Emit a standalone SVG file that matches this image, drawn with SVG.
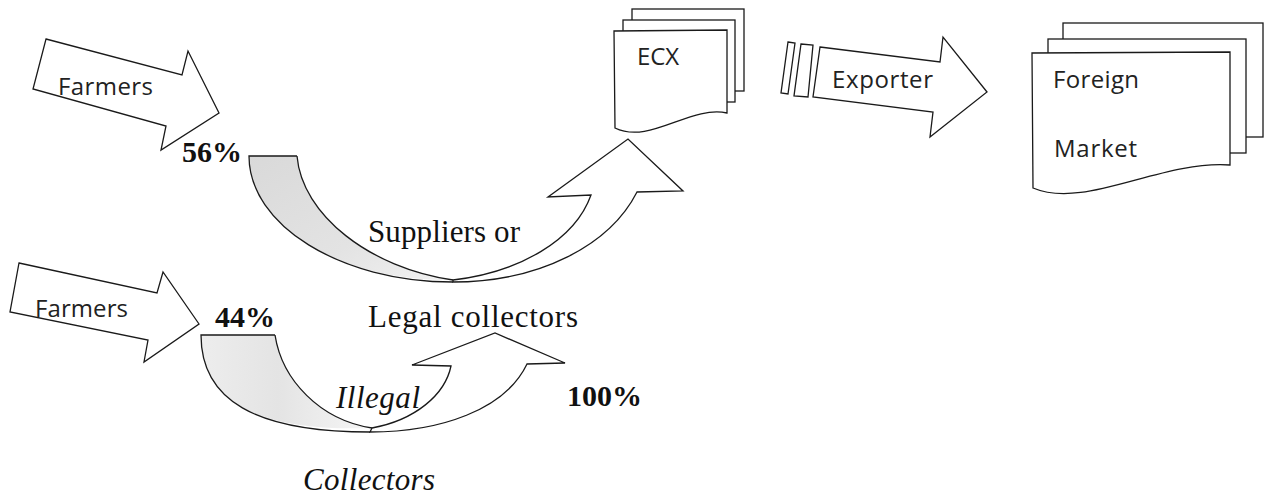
<svg xmlns="http://www.w3.org/2000/svg" width="1267" height="497" viewBox="0 0 1267 497">
<style>
.s{fill:#fff;stroke:#1a1a1a;stroke-width:1.3;stroke-linejoin:miter}
.o{fill:none;stroke:#1a1a1a;stroke-width:1.3}
.sans{font-family:"Open Sans","Liberation Sans",sans-serif;font-size:24px;fill:#222}
.ser{font-family:"Liberation Serif","Times New Roman",serif;font-size:31px;fill:#111}
.pct{font-family:"Liberation Serif","Times New Roman",serif;font-size:30px;font-weight:bold;fill:#111}
.it{font-family:"Liberation Serif","Times New Roman",serif;font-size:31px;font-style:italic;fill:#111}
</style>
<defs>
<linearGradient id="g1" x1="0" y1="0" x2="1" y2="1">
<stop offset="0" stop-color="#d9d9d9"/>
<stop offset="0.6" stop-color="#e3e3e3"/>
<stop offset="1" stop-color="#f2f2f2"/>
</linearGradient>
<linearGradient id="g2" x1="0" y1="0" x2="1" y2="0">
<stop offset="0" stop-color="#ededed"/>
<stop offset="0.45" stop-color="#e4e4e4"/>
<stop offset="1" stop-color="#f6f6f6"/>
</linearGradient>
</defs>
<rect width="1267" height="497" fill="#fff"/>

<g id="farmers-top">
<polygon class="s" points="46,39 182,75 188,51 219,113 161,150 166,126 33,89"/>
<text class="sans" x="58" y="95" textLength="95">Farmers</text>
</g>

<g id="farmers-bottom">
<polygon class="s" points="19,263 157,293 163,272 199,324 144,362 148,340 10,312"/>
<text class="sans" x="35" y="317" textLength="93">Farmers</text>
</g>

<g id="ecx">
<rect class="s" x="632" y="9" width="112" height="82"/>
<rect class="s" x="623" y="20" width="112" height="82"/>
<path class="s" d="M614,31 L727,30 L727,113 C690,105 650,145 615,128 Z"/>
<text class="sans" x="637" y="65" font-size="22" textLength="42">ECX</text>
</g>

<g id="exporter">
<polygon class="s" points="788,42 795,43 788,94 781,93"/>
<polygon class="s" points="801,44 813,45 808,97 794,96"/>
<polygon class="s" points="820,47 940,62 943,37 987,92 930,137 933,112 813,97"/>
<text class="sans" x="832" y="88" textLength="101">Exporter</text>
</g>

<g id="foreign-market">
<rect class="s" x="1063" y="23" width="200" height="114"/>
<rect class="s" x="1048" y="39" width="198" height="114"/>
<path class="s" d="M1032,53 L1230,52 L1230,165 C1160,160 1085,210 1033,188 Z"/>
<text class="sans" x="1053" y="88" textLength="86">Foreign</text>
<text class="sans" x="1054" y="157" textLength="83">Market</text>
</g>

<g id="connectors">
<g id="curve-suppliers">
<path d="M249,156 L297,156 C302,215 370,268 453,280 C340,282 249,225 249,156 Z" fill="url(#g1)" stroke="none"/>
<path class="s" d="M453,282 C540,282 610,245 637,192 L683,191 L628,139 L548,197 L591,195 C575,240 520,272 453,280 Z"/>
<path class="o" d="M297,156 L249,156 C249,225 340,282 453,282 M297,156 C302,215 370,268 453,280"/>
</g>
<g id="curve-collectors">
<path d="M201,335 L275,335 C282,380 320,420 372,428 C255,432 201,400 201,335 Z" fill="url(#g2)" stroke="none"/>
<path class="s" d="M370,432 C440,432 505,410 527,364 L565,363 L495,333 L412,365 L451,366 C445,395 415,420 372,428 Z"/>
<path class="o" d="M275,335 L201,335 C201,400 255,432 370,432 M275,335 C282,380 320,420 372,428"/>
</g>
</g>

<g id="labels">
<text class="pct" x="182" y="162">56%</text>
<text class="ser" x="368" y="242" textLength="152">Suppliers or</text>
<text class="pct" x="215" y="327">44%</text>
<text class="ser" x="368" y="327" textLength="210">Legal collectors</text>
<text class="it" x="336" y="408" textLength="84">Illegal</text>
<text class="pct" x="567" y="406">100%</text>
<text class="it" x="303" y="490" textLength="132">Collectors</text>
</g>
</svg>
